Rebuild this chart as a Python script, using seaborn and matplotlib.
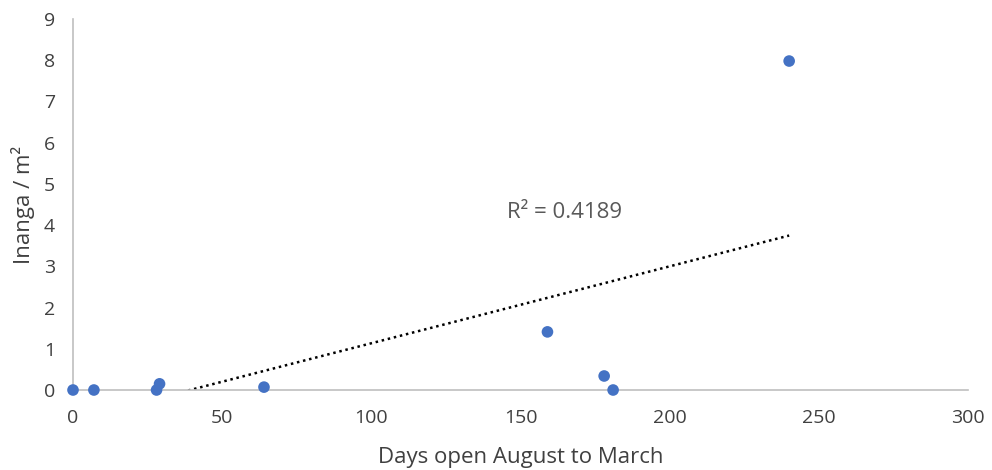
import numpy as np
import pandas as pd
import matplotlib
matplotlib.use("Agg")
import matplotlib.pyplot as plt
import seaborn as sns

days = [0, 7, 28, 29, 64, 159, 178, 181, 240]
inanga = [0, 0, 0, 0.15, 0.07, 1.41, 0.34, 0, 7.98]
x_ticks = [0, 50, 100, 150, 200, 250, 300]
y_ticks = [0, 1, 2, 3, 4, 5, 6, 7, 8, 9]
r2_label = "R² = 0.4189"

df = pd.DataFrame({"days": days, "inanga": inanga})

sns.set_theme(style="white")
plt.rcParams['font.family'] = ['Open Sans', 'DejaVu Sans']

fig = plt.figure(figsize=(9.92, 4.70), dpi=100)
ax = fig.add_axes([0.0736, 0.1702, 0.9024, 0.7894])

# Linear trendline (least squares)
slope, intercept = np.polyfit(df["days"], df["inanga"], 1)
xs = np.array([df["days"].min(), df["days"].max()])
ax.plot(xs, slope * xs + intercept, color="black", linestyle=(0, (1, 1.5)),
        linewidth=1.8, zorder=2)

sns.scatterplot(data=df, x="days", y="inanga", ax=ax, color="#4472C4",
                s=70, edgecolor="none", zorder=3, clip_on=False)

ax.set_xlim(0, 300)
ax.set_ylim(0, 9)
ax.set_xticks(x_ticks)
ax.set_yticks(y_ticks)
ax.tick_params(axis="both", length=0, labelsize=14, colors="#404040")
ax.tick_params(axis="y", pad=13)
ax.tick_params(axis="x", pad=14)

for s in ["top", "right"]:
    ax.spines[s].set_visible(False)
for s in ["left", "bottom"]:
    ax.spines[s].set_color("#BFBFBF")
    ax.spines[s].set_linewidth(1.2)

ax.set_xlabel("Days open August to March", fontsize=16, color="#404040", labelpad=14)
ax.set_ylabel("Inanga / m²", fontsize=16, color="#404040", labelpad=6)

ax.text(145.5, 4.3, r2_label, fontsize=16, color="#595959", va="center", ha="left")

fig.savefig("out.png", dpi=100)
